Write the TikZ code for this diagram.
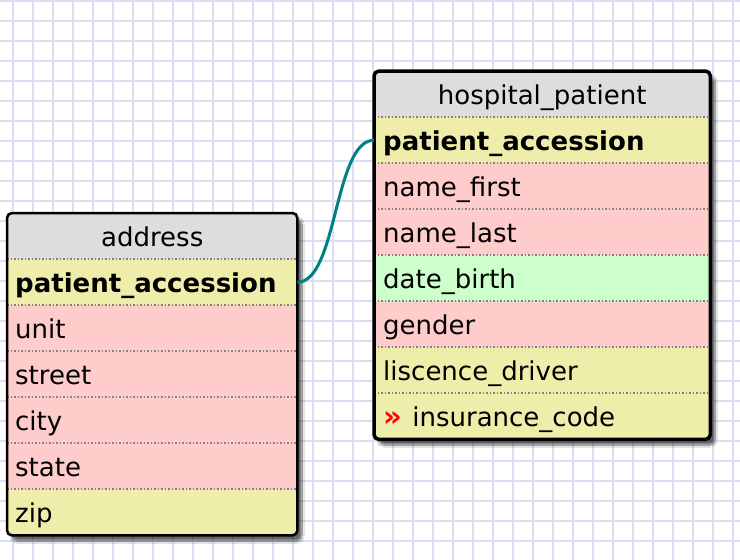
\documentclass[tikz,border=0pt]{standalone}
\usepackage{fontspec}
\setmainfont{DejaVu Sans}
\usetikzlibrary{shadows.blur}
\definecolor{gridblue}{RGB}{221,221,245}
\definecolor{headgray}{RGB}{221,221,221}
\definecolor{keyyellow}{RGB}{238,238,170}
\definecolor{rowpink}{RGB}{255,204,204}
\definecolor{rowgreen}{RGB}{204,255,204}
\definecolor{linkteal}{RGB}{0,128,128}
\tikzset{
  field/.style={anchor=north west, minimum height=46pt, inner ysep=0pt,
    text height=23pt, text depth=3pt, font=\fontsize{26}{30}\selectfont},
  addrrow/.style={field, inner xsep=8pt, text width=274pt},
  patrow/.style={field, inner xsep=9pt, text width=318pt},
  sep/.style={gray, dotted, line width=1.5pt},
  tablebox/.style={rounded corners=5pt},
  shade/.style={blur shadow={shadow xshift=5pt, shadow yshift=-6pt, shadow blur steps=10, shadow opacity=60}},
  link/.style={linkteal, line width=3pt}
}
\begin{document}
\begin{tikzpicture}[x=1pt,y=-1pt]
		\useasboundingbox (0,0) rectangle (740,560);
		\fill[white] (0,0) rectangle (740,560);
		\begin{scope}
		\clip (0,0) rectangle (740,560);
		\foreach \gx in {13,33,...,733} \draw[gridblue, line width=2pt] (\gx,0) -- (\gx,560);
		\foreach \gy in {1,21,...,561} \draw[gridblue, line width=2pt] (0,\gy) -- (740,\gy);
		\end{scope}
		% address
		\path[tablebox, fill=white, shade] (7,213) rectangle (297,535);
		\begin{scope}
		\clip[tablebox] (7,213) rectangle (297,535);
		\node[addrrow, fill=headgray, align=center] (ahead) at (7,213) {address};
		\node[addrrow, fill=keyyellow] (aacc) at (7,259) {\textbf{patient\_accession}};
		\node[addrrow, fill=rowpink] (aunit) at (7,305) {unit};
		\node[addrrow, fill=rowpink] (astreet) at (7,351) {street};
		\node[addrrow, fill=rowpink] (acity) at (7,397) {city};
		\node[addrrow, fill=rowpink] (astate) at (7,443) {state};
		\node[addrrow, fill=keyyellow] (azip) at (7,489) {zip};
		\end{scope}
		\draw[sep] (aacc.north west) -- (aacc.north east);
		\draw[sep] (aunit.north west) -- (aunit.north east);
		\draw[sep] (astreet.north west) -- (astreet.north east);
		\draw[sep] (acity.north west) -- (acity.north east);
		\draw[sep] (astate.north west) -- (astate.north east);
		\draw[sep] (azip.north west) -- (azip.north east);
		\draw[tablebox, line width=2.5pt] (ahead.north west) rectangle (azip.south east);
		% hospital_patient
		\path[tablebox, fill=white, shade] (374,71) rectangle (710,439);
		\begin{scope}
		\clip[tablebox] (374,71) rectangle (710,439);
		\node[patrow, fill=headgray, align=center] (phead) at (374,71) {hospital\_patient};
		\node[patrow, fill=keyyellow] (pacc) at (374,117) {\textbf{patient\_accession}};
		\node[patrow, fill=rowpink] (pfirst) at (374,163) {name\_first};
		\node[patrow, fill=rowpink] (plast) at (374,209) {name\_last};
		\node[patrow, fill=rowgreen] (pbirth) at (374,255) {date\_birth};
		\node[patrow, fill=rowpink] (pgender) at (374,301) {gender};
		\node[patrow, fill=keyyellow] (pdriver) at (374,347) {liscence\_driver};
		\node[patrow, fill=keyyellow] (pinsur) at (374,393) {\textcolor{red}{\fontsize{29}{30}\selectfont\textbf{»}}\hspace{0.4em}insurance\_code};
		\end{scope}
		\draw[sep] (pacc.north west) -- (pacc.north east);
		\draw[sep] (pfirst.north west) -- (pfirst.north east);
		\draw[sep] (plast.north west) -- (plast.north east);
		\draw[sep] (pbirth.north west) -- (pbirth.north east);
		\draw[sep] (pgender.north west) -- (pgender.north east);
		\draw[sep] (pdriver.north west) -- (pdriver.north east);
		\draw[sep] (pinsur.north west) -- (pinsur.north east);
		\draw[tablebox, line width=3.5pt] (phead.north west) rectangle (pinsur.south east);
		% link
		\draw[link] (aacc.east) .. controls +(40,0) and +(-40,0) .. (pacc.west);
	\end{tikzpicture}
\end{document}
